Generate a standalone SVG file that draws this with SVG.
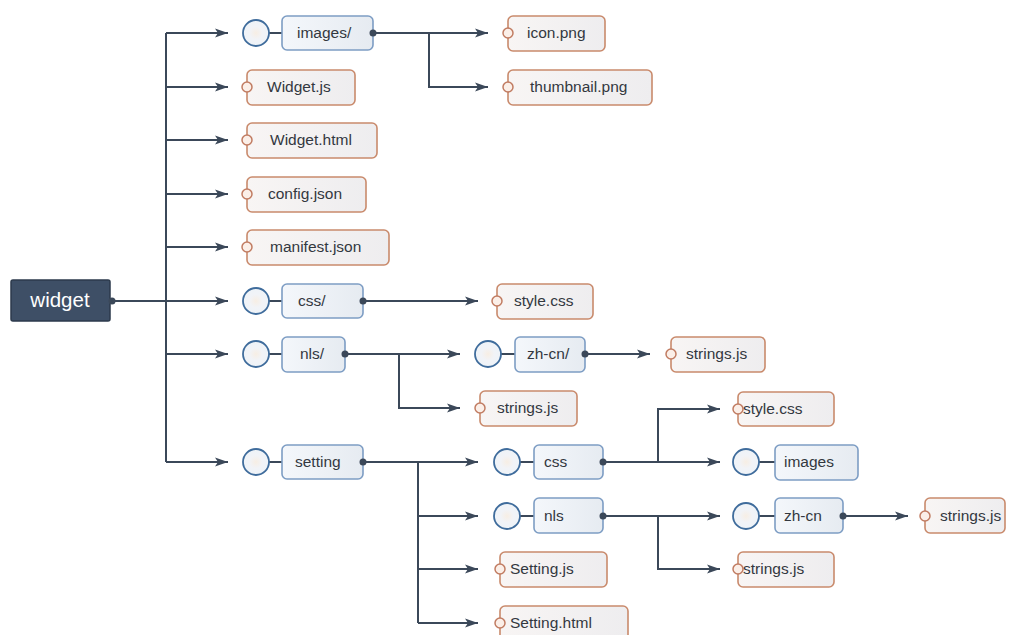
<svg xmlns="http://www.w3.org/2000/svg" width="1012" height="635" viewBox="0 0 1012 635">
<style>
.bg{fill:#ffffff}
.conn{fill:none;stroke:#3b4859;stroke-width:2}
.dot{fill:#3b4859}
.fbox{fill:url(#gFold);stroke:#7d9dc4;stroke-width:1.6}
.fcirc{fill:url(#gCirc);stroke:#3f6c9c;stroke-width:1.8}
.stub{stroke:#3b4859;stroke-width:2}
.file{fill:url(#gFile);stroke:#c98a6c;stroke-width:1.6}
.fdot{fill:#fbefe8;stroke:#c17c62;stroke-width:1.5}
.t{font-family:"Liberation Sans",Arial,sans-serif;font-size:15.5px;fill:#33383f}
.root{fill:#3e4f66;stroke:#2c3a4c;stroke-width:1.5}
.rt{font-family:"Liberation Sans",Arial,sans-serif;font-size:20.5px;fill:#ffffff;text-anchor:middle}
</style>
<defs>
<linearGradient id="gFold" x1="0" y1="0" x2="1" y2="0"><stop offset="0" stop-color="#f4f7fb"/><stop offset="1" stop-color="#e6ebf1"/></linearGradient>
<linearGradient id="gFile" x1="0" y1="0" x2="1" y2="0"><stop offset="0" stop-color="#f8f5f4"/><stop offset="1" stop-color="#eeedef"/></linearGradient>
<radialGradient id="gCirc" r="0.5"><stop offset="0" stop-color="#f7eee4"/><stop offset="0.5" stop-color="#f1f3f7"/><stop offset="1" stop-color="#eef3f8"/></radialGradient>
<marker id="arr" markerUnits="userSpaceOnUse" markerWidth="14" markerHeight="10" refX="13" refY="5" orient="auto"><path d="M0,0.5 L13,5 L0,9.5 L3,5 z" fill="#3b4859"/></marker>
</defs>
<rect class="bg" x="0" y="0" width="1012" height="635"/>

<g id="connectors">
<path class="conn" d="M113,301 H228" marker-end="url(#arr)"/>
<path class="conn" d="M166,33 V462"/>
<path class="conn" d="M166,33 H228" marker-end="url(#arr)"/>
<path class="conn" d="M166,87 H228" marker-end="url(#arr)"/>
<path class="conn" d="M166,140 H228" marker-end="url(#arr)"/>
<path class="conn" d="M166,194 H228" marker-end="url(#arr)"/>
<path class="conn" d="M166,247 H228" marker-end="url(#arr)"/>
<path class="conn" d="M166,354 H228" marker-end="url(#arr)"/>
<path class="conn" d="M166,462 H228" marker-end="url(#arr)"/>
<path class="conn" d="M373,33 H488" marker-end="url(#arr)"/>
<path class="conn" d="M429,33 V87 H488" marker-end="url(#arr)"/>
<path class="conn" d="M363,301 H478" marker-end="url(#arr)"/>
<path class="conn" d="M345,354 H460" marker-end="url(#arr)"/>
<path class="conn" d="M399,354 V408 H460" marker-end="url(#arr)"/>
<path class="conn" d="M585,354 H650" marker-end="url(#arr)"/>
<path class="conn" d="M363,462 H478" marker-end="url(#arr)"/>
<path class="conn" d="M418,462 V623"/>
<path class="conn" d="M418,516 H478" marker-end="url(#arr)"/>
<path class="conn" d="M418,569 H478" marker-end="url(#arr)"/>
<path class="conn" d="M418,623 H478" marker-end="url(#arr)"/>
<path class="conn" d="M603,462 H720" marker-end="url(#arr)"/>
<path class="conn" d="M658,462 V409 H720" marker-end="url(#arr)"/>
<path class="conn" d="M603,516 H720" marker-end="url(#arr)"/>
<path class="conn" d="M658,516 V569 H720" marker-end="url(#arr)"/>
<path class="conn" d="M843,516 H908" marker-end="url(#arr)"/>
</g>

<g id="widget"><rect class="root" x="11" y="280" width="99" height="41" rx="2"/><text class="rt" x="60" y="307">widget</text><circle class="dot" cx="112" cy="301" r="3.5"/></g>

<g id="images-dir"><line class="stub" x1="269" y1="33" x2="282" y2="33"/><circle class="fcirc" cx="256" cy="33" r="13"/><rect class="fbox" x="282" y="16" width="91" height="34" rx="5"/><text class="t" x="297" y="38">images/</text><circle class="dot" cx="373" cy="33" r="3.5"/></g>
<g id="widget-js"><rect class="file" x="247" y="70" width="108" height="35" rx="5"/><circle class="fdot" cx="247" cy="87" r="5"/><text class="t" x="267" y="92">Widget.js</text></g>
<g id="widget-html"><rect class="file" x="247" y="123" width="130" height="35" rx="5"/><circle class="fdot" cx="247" cy="140" r="5"/><text class="t" x="270" y="145">Widget.html</text></g>
<g id="config-json"><rect class="file" x="247" y="177" width="119" height="35" rx="5"/><circle class="fdot" cx="247" cy="194" r="5"/><text class="t" x="268" y="199">config.json</text></g>
<g id="manifest-json"><rect class="file" x="247" y="230" width="142" height="35" rx="5"/><circle class="fdot" cx="247" cy="247" r="5"/><text class="t" x="270" y="252">manifest.json</text></g>
<g id="css-dir"><line class="stub" x1="269" y1="301" x2="282" y2="301"/><circle class="fcirc" cx="256" cy="301" r="13"/><rect class="fbox" x="282" y="284" width="81" height="34" rx="5"/><text class="t" x="298" y="306">css/</text><circle class="dot" cx="363" cy="301" r="3.5"/></g>
<g id="nls-dir"><line class="stub" x1="269" y1="354" x2="282" y2="354"/><circle class="fcirc" cx="256" cy="354" r="13"/><rect class="fbox" x="282" y="337" width="63" height="35" rx="5"/><text class="t" x="300" y="359">nls/</text><circle class="dot" cx="345" cy="354" r="3.5"/></g>
<g id="setting-dir"><line class="stub" x1="269" y1="462" x2="282" y2="462"/><circle class="fcirc" cx="256" cy="462" r="13"/><rect class="fbox" x="282" y="445" width="81" height="34" rx="5"/><text class="t" x="295" y="467">setting</text><circle class="dot" cx="363" cy="462" r="3.5"/></g>

<g id="icon-png"><rect class="file" x="508" y="16" width="97" height="35" rx="5"/><circle class="fdot" cx="508" cy="33" r="5"/><text class="t" x="527" y="38">icon.png</text></g>
<g id="thumbnail-png"><rect class="file" x="508" y="70" width="144" height="35" rx="5"/><circle class="fdot" cx="508" cy="87" r="5"/><text class="t" x="530" y="92">thumbnail.png</text></g>
<g id="css-style"><rect class="file" x="497" y="284" width="96" height="35" rx="5"/><circle class="fdot" cx="497" cy="301" r="5"/><text class="t" x="514" y="306">style.css</text></g>
<g id="nls-zhcn"><line class="stub" x1="501" y1="354" x2="515" y2="354"/><circle class="fcirc" cx="488" cy="354" r="13"/><rect class="fbox" x="515" y="337" width="70" height="35" rx="5"/><text class="t" x="527" y="359">zh-cn/</text><circle class="dot" cx="585" cy="354" r="3.5"/></g>
<g id="nls-zhcn-strings"><rect class="file" x="671" y="337" width="94" height="35" rx="5"/><circle class="fdot" cx="671" cy="354" r="5"/><text class="t" x="686" y="359">strings.js</text></g>
<g id="nls-strings"><rect class="file" x="480" y="391" width="97" height="35" rx="5"/><circle class="fdot" cx="480" cy="408" r="5"/><text class="t" x="497" y="413">strings.js</text></g>

<g id="setting-css"><line class="stub" x1="520" y1="462" x2="534" y2="462"/><circle class="fcirc" cx="507" cy="462" r="13"/><rect class="fbox" x="534" y="445" width="69" height="34" rx="5"/><text class="t" x="544" y="467">css</text><circle class="dot" cx="603" cy="462" r="3.5"/></g>
<g id="setting-nls"><line class="stub" x1="520" y1="516" x2="534" y2="516"/><circle class="fcirc" cx="507" cy="516" r="13"/><rect class="fbox" x="534" y="498" width="69" height="35" rx="5"/><text class="t" x="544" y="521">nls</text><circle class="dot" cx="603" cy="516" r="3.5"/></g>
<g id="setting-js"><rect class="file" x="500" y="552" width="107" height="35" rx="5"/><circle class="fdot" cx="500" cy="569" r="5"/><text class="t" x="510" y="574">Setting.js</text></g>
<g id="setting-html"><rect class="file" x="500" y="606" width="128" height="35" rx="5"/><circle class="fdot" cx="500" cy="623" r="5"/><text class="t" x="510" y="628">Setting.html</text></g>

<g id="setting-css-style"><rect class="file" x="738" y="392" width="96" height="34" rx="5"/><circle class="fdot" cx="738" cy="409" r="5"/><text class="t" x="743" y="414">style.css</text></g>
<g id="setting-css-images"><line class="stub" x1="759" y1="462" x2="775" y2="462"/><circle class="fcirc" cx="746" cy="462" r="13"/><rect class="fbox" x="775" y="445" width="83" height="35" rx="5"/><text class="t" x="784" y="467">images</text></g>
<g id="setting-nls-zhcn"><line class="stub" x1="759" y1="516" x2="775" y2="516"/><circle class="fcirc" cx="746" cy="516" r="13"/><rect class="fbox" x="775" y="498" width="68" height="35" rx="5"/><text class="t" x="784" y="521">zh-cn</text><circle class="dot" cx="843" cy="516" r="3.5"/></g>
<g id="setting-nls-strings"><rect class="file" x="738" y="552" width="96" height="35" rx="5"/><circle class="fdot" cx="738" cy="569" r="5"/><text class="t" x="743" y="574">strings.js</text></g>
<g id="setting-zhcn-strings"><rect class="file" x="925" y="498" width="80" height="35" rx="5"/><circle class="fdot" cx="925" cy="516" r="5"/><text class="t" x="940" y="521">strings.js</text></g>
</svg>
